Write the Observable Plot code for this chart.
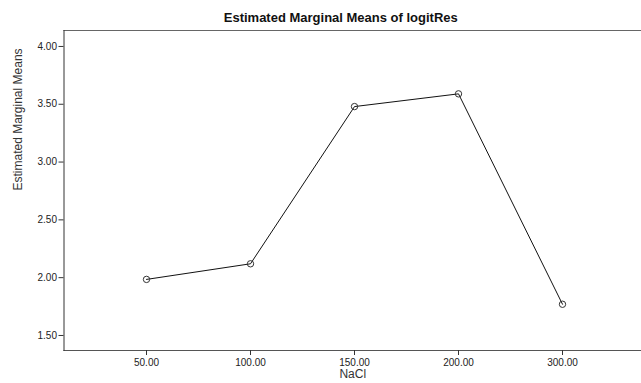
<!DOCTYPE html>
<html>
<head>
<meta charset="utf-8">
<script src="https://cdn.jsdelivr.net/npm/d3@7"></script>
<script src="https://cdn.jsdelivr.net/npm/@observablehq/plot@0.6"></script>
<style>
  html, body { margin: 0; padding: 0; background: #fff; }
  #chart svg { display: block; }
</style>
</head>
<body>
<div id="chart"></div>
<script>
const nacl = ["50.00", "100.00", "150.00", "200.00", "300.00"];
const means = [1.985, 2.12, 3.48, 3.59, 1.77];
const yTicks = [1.5, 2.0, 2.5, 3.0, 3.5, 4.0];
const titleText = "Estimated Marginal Means of logitRes";
const xLabel = "NaCl";
const yLabel = "Estimated Marginal Means";

const data = nacl.map((n, i) => ({ nacl: n, mean: means[i] }));

const chart = Plot.plot({
  width: 641,
  height: 383,
  marginLeft: 63.5,
  marginRight: -4,
  marginTop: 30,
  marginBottom: 33,
  style: { fontFamily: "Liberation Sans, Arial, sans-serif", fontSize: "10px", color: "#222", background: "#fff" },
  x: { type: "point", domain: nacl, padding: 0.795 },
  y: { domain: [1.37, 4.138] },
  marks: [
    Plot.frame({ anchor: "top", stroke: "#666", strokeWidth: 1.2 }),
    Plot.frame({ anchor: "bottom", stroke: "#555", strokeWidth: 1.2 }),
    Plot.frame({ anchor: "left", stroke: "#333", strokeWidth: 1 }),
    Plot.axisY({ ticks: yTicks, tickFormat: d => d.toFixed(2), tickSize: 5, tickPadding: 2, label: null, stroke: "#333" }),
    Plot.axisX({ tickSize: 5, tickPadding: 3, label: null, stroke: "#333" }),
    Plot.line(data, { x: "nacl", y: "mean", stroke: "#111", strokeWidth: 1 }),
    Plot.dot(data, { x: "nacl", y: "mean", r: 3.2, stroke: "#333", fill: "none", strokeWidth: 1 }),
    Plot.text([titleText], { frameAnchor: "top", dy: -18, dx: -14, fontWeight: "bold", fontSize: 13, fill: "#111" }),
    Plot.text([xLabel], { frameAnchor: "bottom", dy: 27, dx: -2, fontSize: 12, fill: "#333" }),
    Plot.text([yLabel], { frameAnchor: "left", rotate: -90, dx: -46, fontSize: 12, fill: "#333", fontFamily: "Liberation Sans Narrow, Arial Narrow, sans-serif" })
  ]
});
document.getElementById("chart").appendChild(chart);
</script>
</body>
</html>
